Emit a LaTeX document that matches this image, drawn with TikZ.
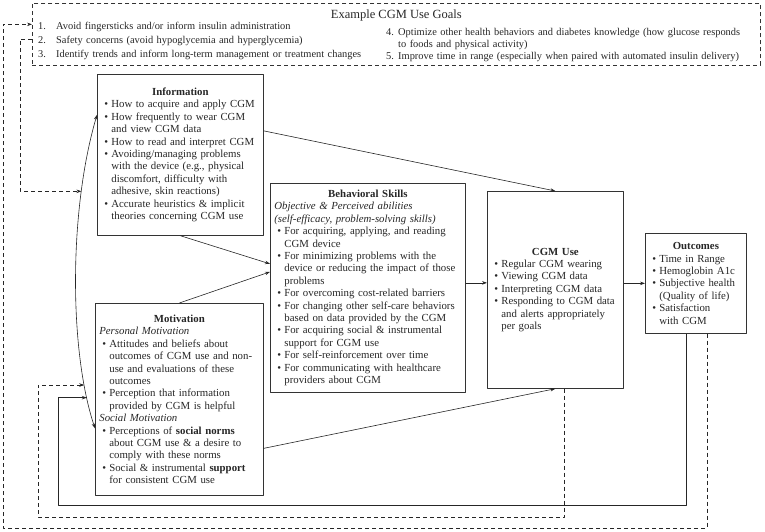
\documentclass[tikz,border=0pt]{standalone}
\usepackage{fontspec}
\setmainfont{Liberation Serif}
\usetikzlibrary{arrows.meta}
\newcommand{\boxhead}[1]{{\centering\textbf{#1}\par}}
\newcommand{\bitem}[1]{\par\hangindent=10pt\hangafter=1\noindent\hbox to 10pt{\hss\textbullet\hss}#1\par}
\newcommand{\gitem}[3]{\par\hangindent=#1\hangafter=1\noindent\hbox to #1{#2.\hss}#3\par}
\tikzset{
	box/.style={draw=black!80, line width=0.7pt, anchor=north west, inner sep=4pt, align=left, text=black!85, font=\fontsize{10.8}{12.4}\selectfont},
	gtext/.style={anchor=north west, inner sep=0pt, align=left, text=black!85},
	link/.style={->, line width=0.6pt, draw=black!85},
	fback/.style={link, dash pattern=on 4pt off 3pt}
}
\begin{document}
\begin{tikzpicture}[x=1pt, y=-1pt, >={Stealth[length=5pt, width=3.5pt]}, line join=round]
	\useasboundingbox (0,0) rectangle (765,531);
	% goals
	\node[box, dash pattern=on 4pt off 3pt, minimum width=728pt, minimum height=62pt] (goals) at (32,3) {};
	\node[anchor=north, inner sep=0pt, text=black!85, font=\fontsize{12.5}{14}\selectfont] (gtitle) at ([yshift=-7pt]goals.north) {Example CGM Use Goals};
	\node[gtext, text width=340pt, font=\fontsize{10.4}{14}\selectfont] (gleft) at (38,15) {%
		\gitem{18pt}{1}{Avoid fingersticks and/or inform insulin administration}
		\gitem{18pt}{2}{Safety concerns (avoid hypoglycemia and hyperglycemia)}
		\gitem{18pt}{3}{Identify trends and inform long-term management or treatment changes}};
	\node[gtext, text width=372pt, font=\fontsize{10.4}{11.7}\selectfont] (gright) at (386,24) {%
		\gitem{12pt}{4}{Optimize other health behaviors and diabetes knowledge (how glucose responds\newline to foods and physical activity)}
		\gitem{12pt}{5}{Improve time in range (especially when paired with automated insulin delivery)}};
	% boxes
	\node[box, text width=158pt, minimum height=161pt] (info) at (97,74) {%
		\boxhead{Information}
		\bitem{How to acquire and apply CGM}
		\bitem{How frequently to wear CGM\newline and view CGM data}
		\bitem{How to read and interpret CGM}
		\bitem{Avoiding/managing problems\newline with the device (e.g., physical\newline discomfort, difficulty with\newline adhesive, skin reactions)}
		\bitem{Accurate heuristics \& implicit\newline theories concerning CGM use}};
	\node[box, text width=187pt, minimum height=209pt] (bs) at (270,183) {%
		\boxhead{Behavioral Skills}
		\textit{Objective \& Perceived abilities}\par
		\textit{(self-efficacy, problem-solving skills)}\par
		\bitem{For acquiring, applying, and reading\newline CGM device}
		\bitem{For minimizing problems with the\newline device or reducing the impact of those\newline problems}
		\bitem{For overcoming cost-related barriers}
		\bitem{For changing other self-care behaviors\newline based on data provided by the CGM}
		\bitem{For acquiring social \& instrumental\newline support for CGM use}
		\bitem{For self-reinforcement over time}
		\bitem{For communicating with healthcare\newline providers about CGM}};
	\node[box, text width=160pt, minimum height=192pt] (mot) at (95,303) {%
		\boxhead{Motivation}
		\textit{Personal Motivation}\par
		\bitem{Attitudes and beliefs about\newline outcomes of CGM use and non-\newline use and evaluations of these\newline outcomes}
		\bitem{Perception that information\newline provided by CGM is helpful}
		\textit{Social Motivation}\par
		\bitem{Perceptions of \textbf{social norms}\newline about CGM use \& a desire to\newline comply with these norms}
		\bitem{Social \& instrumental \textbf{support}\newline for consistent CGM use}};
	\node[box, text width=128pt, minimum height=197pt] (cgm) at (487,191) {%
		\boxhead{CGM Use}
		\bitem{Regular CGM wearing}
		\bitem{Viewing CGM data}
		\bitem{Interpreting CGM data}
		\bitem{Responding to CGM data\newline and alerts appropriately\newline per goals}};
	\node[box, text width=93pt, minimum height=100pt] (out) at (645,233) {%
		\boxhead{Outcomes}
		\bitem{Time in Range}
		\bitem{Hemoglobin A1c}
		\bitem{Subjective health\newline (Quality of life)}
		\bitem{Satisfaction\newline with CGM}};
	% main paths
	\draw[link] (info.south) -- ([yshift=24pt]bs.west);
	\draw[link] (mot.north) -- ([yshift=16pt]bs.west);
	\draw[link] ([yshift=24pt]info.east) -- (cgm.north);
	\draw[link] ([yshift=-49pt]mot.east) -- (cgm.south);
	\draw[link] ([yshift=5pt]bs.east) -- ([yshift=5pt]bs.east -| cgm.west);
	\draw[link] (cgm.east |- out.west) -- (out.west);
	% info <-> motivation
	\draw[<->, line width=0.6pt, draw=black!85] ([yshift=40pt]info.west) .. controls (69,210) and (69,350) .. ([yshift=-29pt]mot.west)
		coordinate[pos=0.245] (jg) coordinate[pos=0.835] (jc) coordinate[pos=0.88] (jo);
	% feedback loops
	\draw[fback] ([yshift=-5pt]goals.west) -- ++(-12,0) |- (jg);
	\draw[fback] ([xshift=11pt]out.south) |- (3,528) |- ([yshift=10pt]goals.west);
	\draw[fback] ([xshift=9pt]cgm.south) |- (38,517) |- (jc);
	\draw[link] ([xshift=-10pt]out.south) |- (58,505) |- (jo);
\end{tikzpicture}
\end{document}
